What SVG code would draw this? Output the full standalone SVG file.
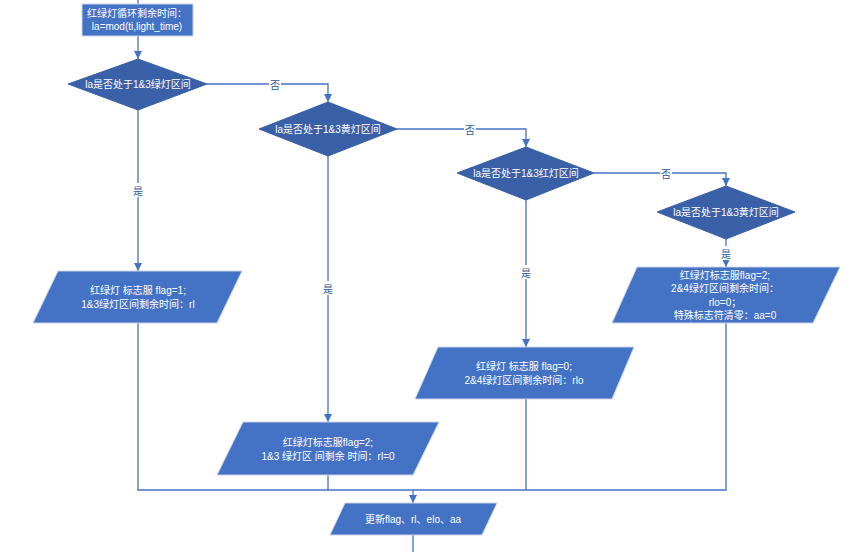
<svg xmlns="http://www.w3.org/2000/svg" width="863" height="552" viewBox="0 0 863 552">
<style>
.bg{fill:#ffffff}
.box{fill:#4472C4;stroke:#c9d3e6;stroke-width:1}
.dia{fill:#3A60A8;stroke:#3A60A8;stroke-width:1}
.t{font-family:"Liberation Sans","Noto Sans CJK SC",sans-serif;font-size:10px;fill:#ffffff;text-anchor:middle;dominant-baseline:central}
.ln{fill:none;stroke:#4472C4;stroke-width:1.3}
.lb{font-family:"Noto Sans CJK SC",sans-serif;font-size:10px;fill:#2F5597;text-anchor:middle;dominant-baseline:central}
.lbg{fill:#ffffff}
</style>
<defs>
<marker id="ah" viewBox="0 0 10 10" refX="10" refY="5" markerWidth="8" markerHeight="8" markerUnits="userSpaceOnUse" orient="auto">
<path d="M0,0 L10,5 L0,10 z" fill="#4472C4"/>
</marker>
</defs>
<rect class="bg" width="863" height="552"/>
<g id="connectors">
<path class="ln" d="M138,0 V4"/>
<path class="ln" d="M138,36 V59" marker-end="url(#ah)"/>
<path class="ln" d="M207,84 H328 V102" marker-end="url(#ah)"/>
<path class="ln" d="M397,129 H526 V147" marker-end="url(#ah)"/>
<path class="ln" d="M594,173 H726 V186" marker-end="url(#ah)"/>
<path class="ln" d="M138,110 V271" marker-end="url(#ah)"/>
<path class="ln" d="M328,156 V422" marker-end="url(#ah)"/>
<path class="ln" d="M526,200 V347" marker-end="url(#ah)"/>
<path class="ln" d="M726,239 V267" marker-end="url(#ah)"/>
<path class="ln" d="M138,323 V490 H726 V323"/>
<path class="ln" d="M328,475 V490"/>
<path class="ln" d="M526,399 V490"/>
<path class="ln" d="M413,490 V503" marker-end="url(#ah)"/>
<path class="ln" d="M413,535 V552"/>
<rect class="lbg" x="269" y="77" width="12" height="14"/>
<text class="lb" x="275" y="84">否</text>
<rect class="lbg" x="464" y="122" width="12" height="14"/>
<text class="lb" x="470" y="129">否</text>
<rect class="lbg" x="660" y="166" width="12" height="14"/>
<text class="lb" x="666" y="173">否</text>
<rect class="lbg" x="132" y="183" width="12" height="14"/>
<text class="lb" x="138" y="190">是</text>
<rect class="lbg" x="322" y="281" width="12" height="14"/>
<text class="lb" x="328" y="288">是</text>
<rect class="lbg" x="520" y="265" width="12" height="14"/>
<text class="lb" x="526" y="272">是</text>
<rect class="lbg" x="720" y="246" width="12" height="14"/>
<text class="lb" x="726" y="253">是</text>
</g>
<g id="n_start">
<rect class="box" x="82" y="4" width="111" height="32"/>
<text class="t" x="137" y="13">红绿灯循环剩余时间：</text>
<text class="t" x="137" y="26">la=mod(ti,light_time)</text>
</g>
<g id="d1">
<polygon class="dia" points="138,59 207,84 138,110 68,84"/>
<text class="t" x="138" y="84">la是否处于1&amp;3绿灯区间</text>
</g>
<g id="d2">
<polygon class="dia" points="328,102 397,129 328,156 259,129"/>
<text class="t" x="328" y="129">la是否处于1&amp;3黄灯区间</text>
</g>
<g id="d3">
<polygon class="dia" points="526,147 594,173 526,200 457,173"/>
<text class="t" x="526" y="173">la是否处于1&amp;3红灯区间</text>
</g>
<g id="d4">
<polygon class="dia" points="726,186 795,212 726,239 657,212"/>
<text class="t" x="726" y="212">la是否处于1&amp;3黄灯区间</text>
</g>
<g id="p1">
<polygon class="box" points="58,271 242,271 217,323 33,323"/>
<text class="t" x="138" y="290">红绿灯 标志服 flag=1;</text>
<text class="t" x="138" y="304">1&amp;3绿灯区间剩余时间：rl</text>
</g>
<g id="p2">
<polygon class="box" points="243,422 439,422 413,475 217,475"/>
<text class="t" x="328" y="442">红绿灯标志服flag=2;</text>
<text class="t" x="328" y="456">1&amp;3 绿灯区 间剩余 时间：rl=0</text>
</g>
<g id="p3">
<polygon class="box" points="438,347 634,347 612,399 415,399"/>
<text class="t" x="524" y="366">红绿灯 标志服 flag=0;</text>
<text class="t" x="524" y="380">2&amp;4绿灯区间剩余时间：rlo</text>
</g>
<g id="p4">
<polygon class="box" points="637,267 840,267 813,323 612,323"/>
<text class="t" x="725" y="275">红绿灯标志服flag=2;</text>
<text class="t" x="725" y="288">2&amp;4绿灯区间剩余时间：</text>
<text class="t" x="725" y="302">rlo=0；</text>
<text class="t" x="725" y="315">特殊标志符清零：aa=0</text>
</g>
<g id="p5">
<polygon class="box" points="345,503 497,503 482,535 330,535"/>
<text class="t" x="413" y="519">更新flag、rl、elo、aa</text>
</g>
</svg>
